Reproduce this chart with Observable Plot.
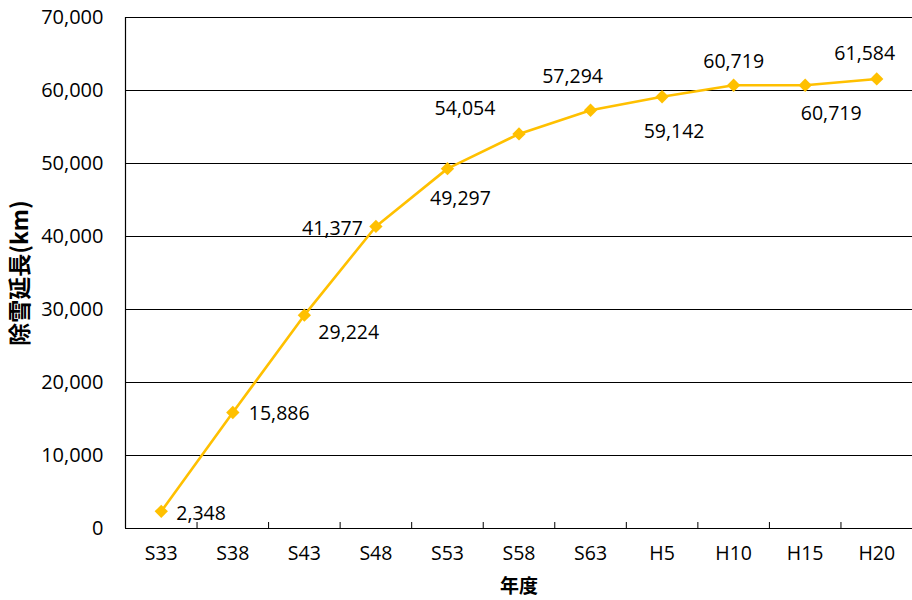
<!DOCTYPE html>
<html><head><meta charset="utf-8">
<script src="https://cdn.jsdelivr.net/npm/d3@7"></script>
<script src="https://cdn.jsdelivr.net/npm/@observablehq/plot@0.6"></script>
<style>body{margin:0;background:#fff}</style>
</head><body><div id="chart"></div>
<script>
const categories = ["S33","S38","S43","S48","S53","S58","S63","H5","H10","H15","H20"];
const values = [2348,15886,29224,41377,49297,54054,57294,59142,60719,60719,61584];
const yTicks = [0,10000,20000,30000,40000,50000,60000,70000];
// label placement relative to each point: [anchor, dx, dy]
const labelPlacement = [
  ["start", 15, 2], ["start", 16, 1], ["start", 14, 18], ["end", -13, 2],
  ["middle", 13, 30], ["middle", -54, -25], ["middle", -18, -34], ["middle", 12, 35],
  ["middle", 0, -24], ["middle", 26, 28], ["middle", -12, -25]
];
const fmt = d3.format(",");
const data = categories.map((c, i) => ({i, c, v: values[i]}));
const boundaries = categories.map((c, i) => i + 0.5);

const font = "'Open Sans', 'Noto Sans CJK JP', sans-serif";
const cjk = "'Noto Sans CJK JP', sans-serif";

const labels = data.map((d, k) => Plot.text([d], {
  x: "i", y: "v", text: d => fmt(d.v),
  textAnchor: labelPlacement[k][0], dx: labelPlacement[k][1], dy: labelPlacement[k][2],
  fontSize: 19.5, fill: "#000", fontFamily: font
}));

const chart = Plot.plot({
  width: 912, height: 600,
  marginLeft: 125, marginRight: 0, marginTop: 17, marginBottom: 72,
  style: {fontFamily: font, fontSize: "19.5px", background: "#fff", color: "#000", overflow: "visible"},
  x: {type: "linear", domain: [-0.5, categories.length - 0.5], axis: null},
  y: {domain: [0, 70000], axis: null},
  marks: [
    Plot.gridY(yTicks, {stroke: "#000", strokeOpacity: 1, strokeWidth: 1}),
    Plot.ruleX([-0.5], {stroke: "#000", strokeWidth: 1.2}),
    Plot.ruleY([0], {stroke: "#000", strokeWidth: 1.2}),
    Plot.ruleX(boundaries, {stroke: "#000", strokeWidth: 1, insetTop: 505}),
    Plot.axisY(yTicks, {tickSize: 0, tickPadding: 22, tickFormat: fmt, label: null, fontSize: 20}),
    Plot.axisX(data.map(d => d.i), {tickSize: 0, tickPadding: 18, tickFormat: i => categories[i], label: null, fontSize: 19.5}),
    Plot.line(data, {x: "i", y: "v", stroke: "#FFC000", strokeWidth: 2.6}),
    Plot.dot(data, {x: "i", y: "v", symbol: "diamond2", r: 6, fill: "#FFC000", stroke: "none"}),
    ...labels,
    Plot.text(["除雪延長(km)"], {frameAnchor: "left", textAnchor: "middle", dx: -105, rotate: -90, fontFamily: cjk, fontWeight: "bold", fontSize: 23, fill: "#000"}),
    Plot.text(["年度"], {frameAnchor: "bottom", textAnchor: "middle", dy: 64, fontFamily: cjk, fontWeight: "bold", fontSize: 19, fill: "#000"})
  ]
});
document.getElementById("chart").appendChild(chart);
</script>
</body></html>
